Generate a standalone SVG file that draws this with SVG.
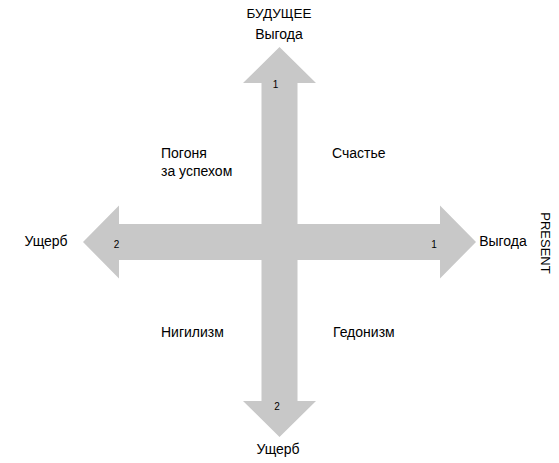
<svg xmlns="http://www.w3.org/2000/svg" width="559" height="463" viewBox="0 0 559 463">
<style>
.ax{fill:#c8c8c8;stroke:none}
.t{font-family:"Liberation Sans",Arial,sans-serif;font-size:14px;fill:#000}
.n{font-family:"Liberation Sans",Arial,sans-serif;font-size:10px;fill:#000}
</style>
<rect width="559" height="463" fill="#fff"/>
<g id="connectors">
<polygon class="ax" points="279.5,47 316,83 297.5,83 297.5,401 316,401 279.5,437 243,401 261.5,401 261.5,83 243,83"/>
<polygon class="ax" points="83,242 119,205.5 119,224 440,224 440,205.5 476,242 440,278.5 440,260 119,260 119,278.5"/>
</g>
<g id="axis-labels">
<text class="t" x="279" y="18" text-anchor="middle" style="font-size:13.5px">БУДУЩЕЕ</text>
<text class="t" x="279" y="39" text-anchor="middle">Выгода</text>
<text class="t" x="278" y="454" text-anchor="middle">Ущерб</text>
<text class="t" x="46" y="246" text-anchor="middle">Ущерб</text>
<text class="t" x="503" y="246" text-anchor="middle">Выгода</text>
<text class="t" x="0" y="0" text-anchor="middle" transform="translate(540.5,243) rotate(90)" style="font-size:13px">PRESENT</text>
</g>
<g id="axis-numbers">
<text class="n" x="275.5" y="88" text-anchor="middle">1</text>
<text class="n" x="277" y="410" text-anchor="middle">2</text>
<text class="n" x="116.5" y="248" text-anchor="middle">2</text>
<text class="n" x="434" y="248" text-anchor="middle">1</text>
</g>
<g id="q-top-left">
<text class="t" x="161" y="158">Погоня</text>
<text class="t" x="161" y="176">за успехом</text>
</g>
<g id="q-top-right"><text class="t" x="332" y="158">Счастье</text></g>
<g id="q-bottom-left"><text class="t" x="161" y="337">Нигилизм</text></g>
<g id="q-bottom-right"><text class="t" x="333" y="337">Гедонизм</text></g>
</svg>
